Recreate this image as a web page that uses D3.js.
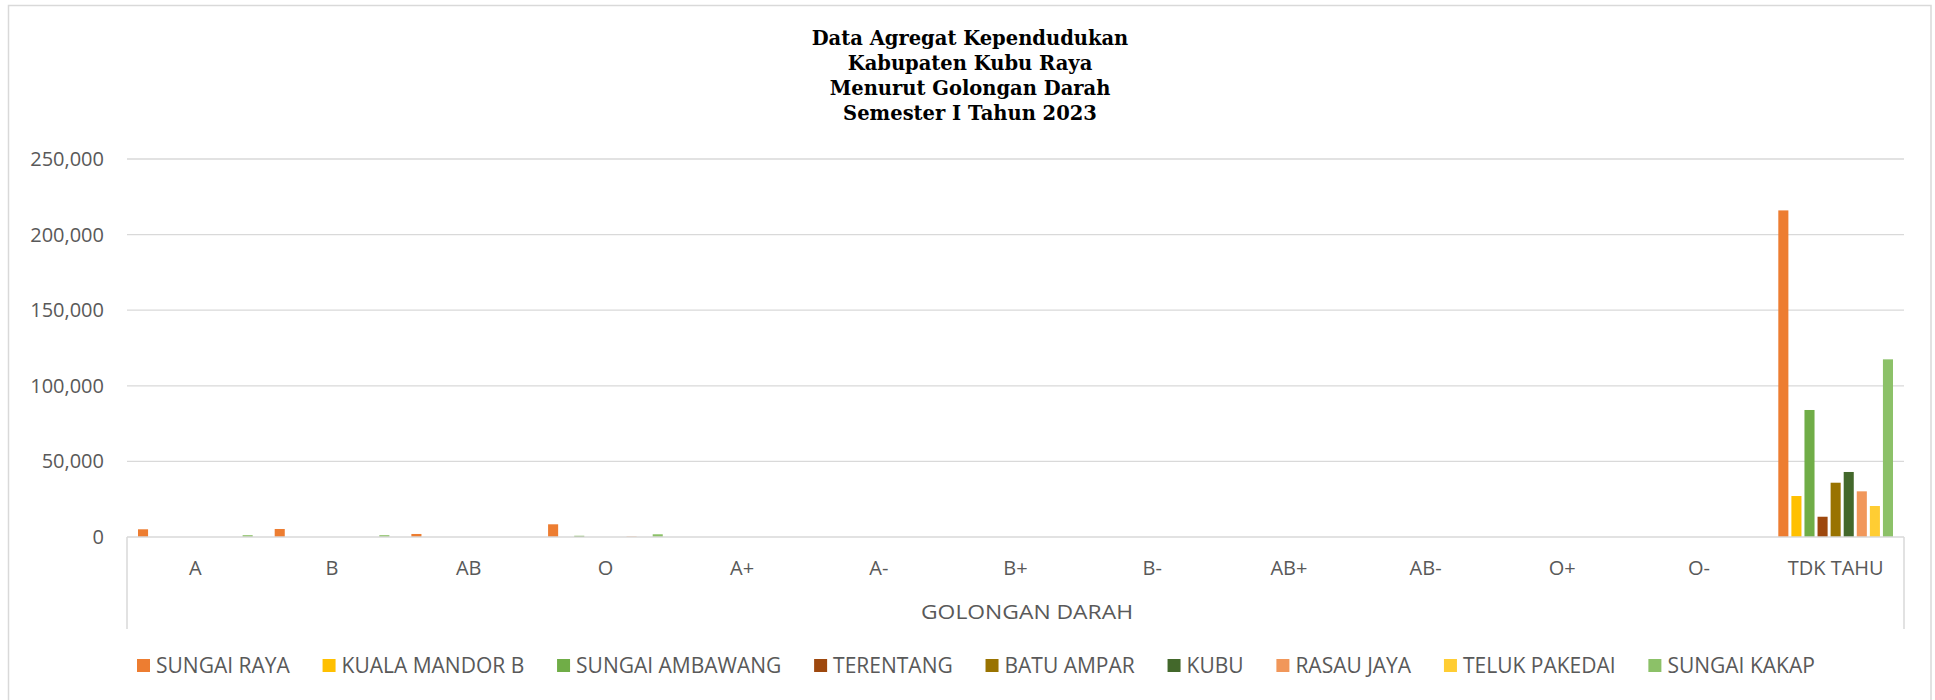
<!DOCTYPE html>
<html>
<head>
<meta charset="utf-8">
<script src="https://cdn.jsdelivr.net/npm/d3@7"></script>
<style>
  body { margin: 0; background: #fff; }
  svg text { font-family: 'Open Sans', sans-serif; }
</style>
</head>
<body>
<div id="chart"></div>
<script>
// Data
const TITLE = ['Data Agregat Kependudukan', 'Kabupaten Kubu Raya', 'Menurut Golongan Darah', 'Semester I Tahun 2023']
const categories = ['A', 'B', 'AB', 'O', 'A+', 'A-', 'B+', 'B-', 'AB+', 'AB-', 'O+', 'O-', 'TDK TAHU']
const seriesNames = ['SUNGAI RAYA', 'KUALA MANDOR B', 'SUNGAI AMBAWANG', 'TERENTANG', 'BATU AMPAR', 'KUBU', 'RASAU JAYA', 'TELUK PAKEDAI', 'SUNGAI KAKAP']
const sungaiRaya     = [5100, 5300, 2000, 8400, 0, 0, 0, 0, 0, 0, 0, 0, 216000]
const kualaMandorB   = [0, 0, 0, 0, 0, 0, 0, 0, 0, 0, 0, 0, 27100]
const sungaiAmbawang = [0, 0, 0, 800, 0, 0, 0, 0, 0, 0, 0, 0, 84000]
const terentang      = [0, 0, 0, 0, 0, 0, 0, 0, 0, 0, 0, 0, 13400]
const batuAmpar      = [0, 0, 0, 0, 0, 0, 0, 0, 0, 0, 0, 0, 35900]
const kubu           = [0, 0, 0, 0, 0, 0, 0, 0, 0, 0, 0, 0, 43000]
const rasauJaya      = [0, 0, 0, 300, 0, 0, 0, 0, 0, 0, 0, 0, 30200]
const telukPakedai   = [0, 0, 0, 0, 0, 0, 0, 0, 0, 0, 0, 0, 20500]
const sungaiKakap    = [1200, 1200, 0, 1800, 0, 0, 0, 0, 0, 0, 0, 0, 117500]
const yTicks = [0, 50000, 100000, 150000, 200000, 250000]

const seriesValues = [sungaiRaya, kualaMandorB, sungaiAmbawang, terentang, batuAmpar, kubu, rasauJaya, telukPakedai, sungaiKakap]
const COLORS = ['#ED7D31', '#FFC000', '#70AD47', '#9E480E', '#997300', '#43682B', '#F1975A', '#FFCD33', '#8CC168']

// Layout
const width = 1935
const height = 700
const margin = { left: 127, right: 1904, top: 159, bottom: 537 }

const svg = d3.select('#chart').append('svg')
  .attr('width', width)
  .attr('height', height)

// Outer border
svg.append('rect')
  .attr('x', 8.5).attr('y', 5.5)
  .attr('width', 1931 - 8.5).attr('height', 720)
  .attr('fill', 'none')
  .attr('stroke', '#d9d9d9')
  .attr('stroke-width', 1.5)

// Title
svg.append('g').selectAll('text')
  .data(TITLE)
  .enter()
  .append('text')
  .attr('x', 970)
  .attr('y', (_, i) => 45 + i * 25)
  .attr('text-anchor', 'middle')
  .style('font-family', "'DejaVu Serif', serif")
  .style('font-weight', 'bold')
  .style('font-size', '19.5px')
  .attr('fill', '#000')
  .text(d => d)

// Scales
const x = d3.scaleBand()
  .domain(categories)
  .range([margin.left, margin.right])

const inner = d3.scaleBand()
  .domain(seriesNames)
  .range([11, x.bandwidth() - 11])
  .paddingInner(0.23)

const y = d3.scaleLinear()
  .domain([0, 250000])
  .range([margin.bottom, margin.top])

// Gridlines
svg.append('g').selectAll('line')
  .data(yTicks.filter(t => t > 0))
  .enter()
  .append('line')
  .attr('x1', margin.left).attr('x2', margin.right)
  .attr('y1', d => y(d)).attr('y2', d => y(d))
  .attr('stroke', '#d9d9d9')
  .attr('stroke-width', 1.3)

// Y tick labels
svg.append('g').selectAll('text')
  .data(yTicks)
  .enter()
  .append('text')
  .attr('x', 104)
  .attr('y', d => y(d))
  .attr('dy', '0.35em')
  .attr('text-anchor', 'end')
  .attr('fill', '#595959')
  .style('font-size', '20px')
  .text(d => d3.format(',')(d))

// Bars
const groups = svg.append('g').selectAll('g')
  .data(categories)
  .enter()
  .append('g')
  .attr('transform', d => `translate(${x(d)},0)`)

groups.selectAll('rect')
  .data((_, ci) => seriesNames.map((s, si) => ({ s, si, v: seriesValues[si][ci] })))
  .enter()
  .append('rect')
  .attr('x', d => inner(d.s))
  .attr('y', d => y(d.v))
  .attr('width', inner.bandwidth())
  .attr('height', d => y(0) - y(d.v))
  .attr('fill', d => COLORS[d.si])

// Category axis
const axis = svg.append('g')
axis.append('line')
  .attr('x1', margin.left).attr('x2', margin.right)
  .attr('y1', margin.bottom).attr('y2', margin.bottom)
  .attr('stroke', '#d9d9d9').attr('stroke-width', 1.5)
axis.selectAll('.sep')
  .data([margin.left, margin.right])
  .enter()
  .append('line')
  .attr('class', 'sep')
  .attr('x1', d => d).attr('x2', d => d)
  .attr('y1', margin.bottom).attr('y2', 629)
  .attr('stroke', '#d9d9d9').attr('stroke-width', 1.5)

axis.selectAll('text')
  .data(categories)
  .enter()
  .append('text')
  .attr('x', d => x(d) + x.bandwidth() / 2)
  .attr('y', 568)
  .attr('dy', '0.35em')
  .attr('text-anchor', 'middle')
  .attr('fill', '#595959')
  .style('font-size', '20px')
  .text(d => d)

svg.append('text')
  .attr('x', 1027)
  .attr('y', 612)
  .attr('dy', '0.35em')
  .attr('text-anchor', 'middle')
  .attr('fill', '#595959')
  .style('font-size', '20px')
  .attr('textLength', 212)
  .attr('lengthAdjust', 'spacingAndGlyphs')
  .text('GOLONGAN DARAH')

// Legend
const legend = svg.append('g')
const items = legend.selectAll('g')
  .data(seriesNames)
  .enter()
  .append('g')

items.append('rect')
  .attr('width', 13).attr('height', 13)
  .attr('y', 659)
  .attr('fill', (_, i) => COLORS[i])

items.append('text')
  .attr('x', 19)
  .attr('y', 666)
  .attr('dy', '0.35em')
  .attr('fill', '#595959')
  .style('font-size', '21px')
  .text(d => d)

// Position legend items by measured text width
let offset = 137
items.each(function () {
  const w = this.querySelector('text').getComputedTextLength()
  d3.select(this).attr('transform', `translate(${offset},0)`)
  offset += 19 + w + 32.8
})
</script>
</body>
</html>
